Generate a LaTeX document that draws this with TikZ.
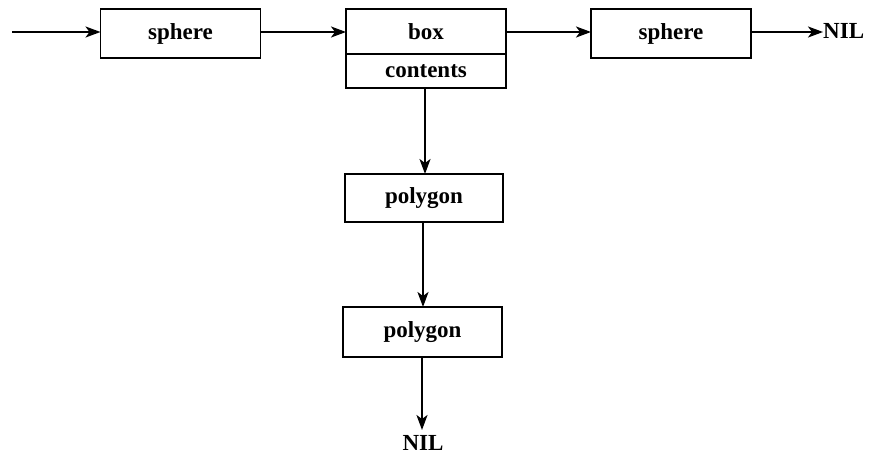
\documentclass[tikz,border=0pt]{standalone}
\usepackage{fontspec}
\setmainfont{Liberation Serif}
\usetikzlibrary{arrows.meta,positioning}
\begin{document}
\begin{tikzpicture}[x=1pt,y=-1pt,
  every node/.style={font=\fontsize{23}{26}\selectfont\bfseries, inner sep=0pt},
  cell/.style={draw, line width=1.8pt, outer sep=0pt, minimum width=160pt, minimum height=49pt},
  link/.style={line width=2pt, -{Stealth[length=15pt,width=11pt,inset=4pt]}}]
\useasboundingbox (0,0) rectangle (872,473);
% top row
\node[cell] (s1) at (180.5,33.5) {sphere};
\node[cell, minimum height=45pt] (box) at (426,31.5) {box};
\node[cell, minimum height=34pt, anchor=north] (cont) at (box.south) {contents};
\node[cell] (s2) at (671,33.5) {sphere};
\node[anchor=west] (nilr) at (823,31) {NIL};
\coordinate (in) at (12,32);
% vertical chain
\node[cell, minimum width=158pt, minimum height=48pt] (p1) at (424,198) {polygon};
\node[cell, minimum width=159pt, minimum height=50pt] (p2) at (422.5,332) {polygon};
\node (nilb) at (423,443) {NIL};
% connectors
\draw[link] (in) -- (in -| s1.west);
\draw[link] (s1.east |- 0,32) -- (box.west |- 0,32);
\draw[link] (box.east |- 0,32) -- (s2.west |- 0,32);
\draw[link] (s2.east |- 0,32) -- (nilr.west |- 0,32);
\draw[link] (cont.south -| 425,0) -- (p1.north -| 425,0);
\draw[link] (p1.south -| 423,0) -- (p2.north -| 423,0);
\draw[link] (p2.south -| 422,0) -- (422,430);
\end{tikzpicture}
\end{document}
